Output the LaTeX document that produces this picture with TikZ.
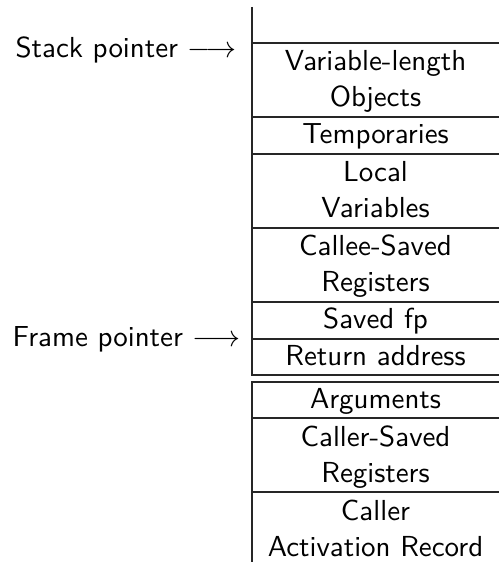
\documentclass[tikz,border=0pt]{standalone}
\begin{document}
\begin{tikzpicture}[x=0.3333pt,y=-0.3333pt,
  cell/.style={anchor=base,inner sep=0pt,font=\fontsize{9.65}{11.6}\selectfont\sffamily},
  ptr/.style={anchor=base west,inner sep=0pt,font=\fontsize{9.65}{11.6}\selectfont\sffamily},
  rule/.style={line width=0.35pt,draw=black!85}]
\useasboundingbox (0,0) rectangle (499,562);

% callee frame: left edge and row separators
\draw[rule] (252,7) -- (252,375) -- (499,375);
\foreach \yy in {43,117,154,228,302,339}
  \draw[rule] (252,\yy) -- (499,\yy);

% caller frame
\draw[rule] (499,382) -- (252,382) -- (252,562);
\foreach \yy in {418,492}
  \draw[rule] (252,\yy) -- (499,\yy);

% cell texts
\node[cell] (vl1) at (375.5,71)  {Variable-length};
\node[cell] (vl2) at (375.5,107) {Objects};
\node[cell] (tmp) at (375.5,144) {Temporaries};
\node[cell] (lv1) at (375.5,182) {Local};
\node[cell] (lv2) at (375.5,218) {Variables};
\node[cell] (cs1) at (375.5,256) {Callee-Saved};
\node[cell] (cs2) at (375.5,292) {Registers};
\node[cell] (sfp) at (375.5,329) {Saved fp};
\node[cell] (ret) at (375.5,365) {Return address};
\node[cell] (arg) at (375.5,408) {Arguments};
\node[cell] (cr1) at (375.5,446) {Caller-Saved};
\node[cell] (cr2) at (375.5,482) {Registers};
\node[cell] (ca1) at (375.5,520) {Caller};
\node[cell] (ca2) at (375.5,556) {Activation Record};

% pointers
\node[ptr] (sp) at (15,58)  {Stack pointer $\longrightarrow$};
\node[ptr] (fp) at (12,347) {Frame pointer $\longrightarrow$};
\end{tikzpicture}
\end{document}
